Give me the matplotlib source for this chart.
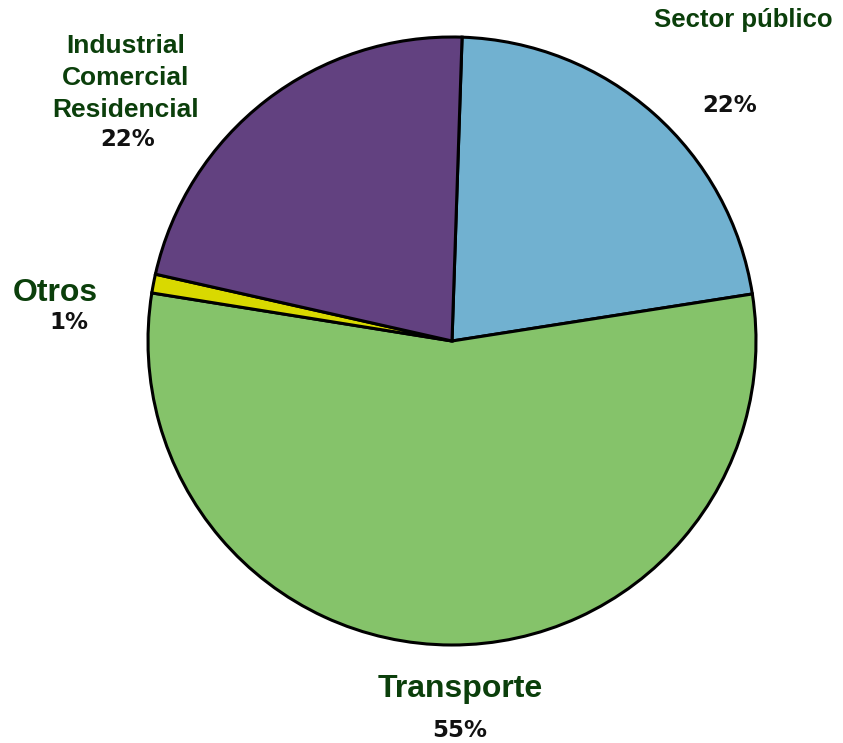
import matplotlib.pyplot as plt

W, H = 843, 743

sectors = ['Sector público', 'Transporte', 'Otros', 'Industrial\nComercial\nResidencial']
shares = [22, 55, 1, 22]
colors = ['#71b1d0', '#85c36a', '#d9d900', '#624180']

# label spots in pixel coordinates (x centre, baseline of name, baseline of percent)
name_pos = [(743, 27), (460, 697), (55, 301), (126, 53)]
pct_pos = [(730, 112), (460, 737), (69, 329), (128, 146)]
name_size = [18.5, 23, 23, 19]

fig = plt.figure(figsize=(W / 100, H / 100), dpi=100)
ax = fig.add_axes([0, 0, 1, 1])
ax.set_xlim(0, W)
ax.set_ylim(0, H)
ax.set_aspect('equal')
ax.axis('off')

ax.pie(shares, colors=colors, startangle=88.1, counterclock=False,
       center=(452, H - 341), radius=304,
       wedgeprops=dict(edgecolor='black', linewidth=2.2))
ax.set_xlim(0, W)
ax.set_ylim(0, H)

green = '#0b3f0b'
for name, share, (nx, ny), (px, py), fs in zip(sectors, shares, name_pos, pct_pos, name_size):
    for i, line in enumerate(name.split('\n')):
        ax.text(nx, H - (ny + i * 32), line, ha='center', va='baseline',
                fontsize=fs, fontweight='bold', color=green,
                family='Liberation Sans')
    ax.text(px, H - py, f'{share}%', ha='center', va='baseline',
            fontsize=16.5, fontweight='bold', color='#111111',
            family='DejaVu Sans')

fig.savefig('out.png', dpi=100)
